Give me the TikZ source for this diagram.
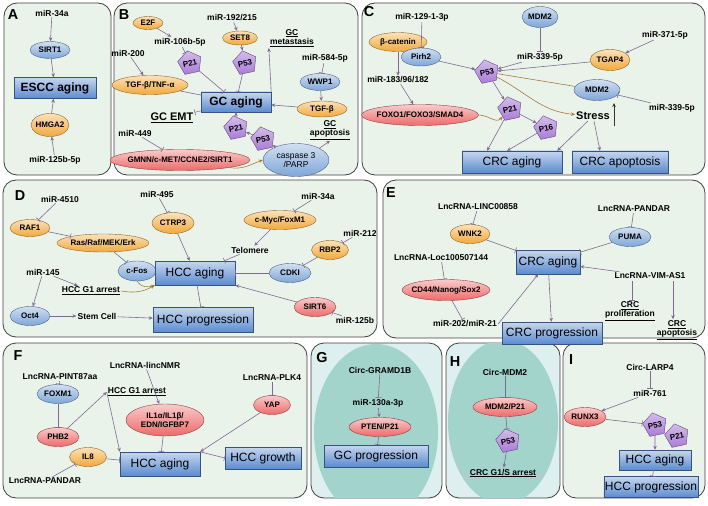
\documentclass[tikz,border=0pt]{standalone}
\usepackage{fontspec}
\setmainfont{Liberation Sans}
\usetikzlibrary{shapes.geometric,arrows.meta,positioning,calc}
\definecolor{bluN}{HTML}{7EA6D8}
\definecolor{orgN}{HTML}{F2A93B}
\definecolor{redN}{HTML}{EE6A6A}
\definecolor{purN}{HTML}{A97BD6}
\definecolor{boxB}{HTML}{5B8BD0}
\definecolor{lin}{HTML}{7D6B91}
\definecolor{brn}{HTML}{A67C3C}
\definecolor{bg}{HTML}{EAF3EA}
\definecolor{bgG}{HTML}{DDEFEE}
\definecolor{tealN}{HTML}{A3D4CC}
\tikzset{
  txt/.style={font=\fontsize{8.5}{9.5}\selectfont\bfseries, inner sep=1pt, align=center},
  ell/.style={ellipse, draw=#1!60!black, top color=#1!35!white, bottom color=#1,
    font=\fontsize{8}{9}\selectfont\bfseries, inner xsep=-4pt, inner ysep=-1pt, align=center},
  pent/.style={regular polygon, regular polygon sides=5, draw=purN!60!black,
    top color=purN!50!white, bottom color=purN, minimum size=24pt, inner sep=0pt,
    rotate=12, font=\fontsize{8}{9}\selectfont\bfseries},
  box/.style={rectangle, draw=boxB!60!black, top color=boxB!35!white, bottom color=boxB,
    font=\fontsize{12}{13}\selectfont, inner sep=1pt},
  panel/.style={rounded corners=13pt, draw=black!75, thick, fill=bg},
  lbl/.style={font=\Large\bfseries},
  act/.style={-{Stealth[length=4pt,width=3.5pt]}, draw=lin, semithick},
  inh/.style={-{Bar[width=6pt]}, draw=lin, semithick},
  bact/.style={-{Stealth[length=4pt,width=3.5pt]}, draw=brn, semithick},
}
\begin{document}
\begin{tikzpicture}[x=1pt,y=-1pt]
\useasboundingbox (0,0) rectangle (708,505);

% panels
\draw[panel] (4,3) rectangle (111,175);
\draw[panel] (114,3) rectangle (358,175);
\draw[panel] (362,3) rectangle (705,175);
\draw[panel] (3,180) rectangle (377,337);
\draw[panel] (383,180) rectangle (705,338);
\draw[panel] (3,343) rectangle (307,498);
\draw[panel, fill=bgG] (311,343) rectangle (442,498);
\draw[panel, fill=bgG] (446,343) rectangle (560,498);
\draw[panel] (563,343) rectangle (705,498);
\begin{scope}
  \clip[rounded corners=13pt] (311,343) rectangle (442,498);
  \fill[tealN] (376,432) ellipse (62 and 88);
\end{scope}
\begin{scope}
  \clip[rounded corners=13pt] (446,343) rectangle (560,498);
  \fill[tealN] (503,422) ellipse (55 and 82);
\end{scope}

% A
\node[lbl] at (13,15) {A};
\node[txt] (aMir) at (52,13) {miR-34a};
\node[ell=bluN, minimum width=40pt, minimum height=17pt] (aSirt) at (50,50) {SIRT1};
\node[box, minimum width=82pt, minimum height=21pt, font=\fontsize{12}{13}\selectfont\bfseries] (aEscc) at (55,88) {ESCC aging};
\node[ell=orgN, minimum width=38pt, minimum height=23pt] (aHmga) at (50,125) {HMGA2};
\node[txt] (aMirb) at (55,160) {miR-125b-5p};
\draw[act] (aMir) -- (aSirt);
\draw[act] (aSirt) -- (aEscc);
\draw[act] (aMirb) -- (aHmga);
\draw[act] (aHmga) -- (aEscc);

% B
\node[lbl] at (124,15) {B};
\node[ell=orgN, minimum width=30pt, minimum height=13pt] (bE2f) at (148,23) {E2F};
\node[txt] (bMir106) at (180,42) {miR-106b-5p};
\node[pent] (bP21a) at (190,63) {P21};
\node[txt] (bMir200) at (128,53) {miR-200};
\node[ell=orgN, minimum width=76pt, minimum height=19pt] (bTgft) at (150,85) {TGF-β/TNF-α};
\node[txt] (bMir192) at (232,18) {miR-192/215};
\node[ell=orgN, minimum width=35pt, minimum height=14pt] (bSet) at (240,38) {SET8};
\node[pent] (bP53a) at (245,63) {P53};
\node[txt] (bMeta) at (292,38) {\underline{GC}\\\underline{metastasis}};
\node[txt] (bMir584) at (325,58) {miR-584-5p};
\node[ell=bluN, minimum width=40pt, minimum height=17pt] (bWwp) at (320,82) {WWP1};
\node[box, minimum width=70pt, minimum height=20pt, font=\fontsize{12}{13}\selectfont\bfseries] (bGc) at (236,102) {GC aging};
\node[ell=orgN, minimum width=50pt, minimum height=16pt] (bTgf) at (322,109) {TGF-β};
\node[txt, font=\fontsize{11}{12}\selectfont\bfseries] (bEmt) at (172,118) {\underline{GC EMT}};
\node[txt] (bMir449) at (135,133) {miR-449};
\node[ell=redN, minimum width=140pt, minimum height=21pt] (bGmnn) at (180,160) {GMNN/c-MET/CCNE2/SIRT1};
\node[pent] (bP21b) at (236,128) {P21};
\node[pent] (bP53b) at (263,139) {P53};
\node[txt] (bApo) at (330,130) {\underline{GC}\\\underline{apoptosis}};
\node[ell=bluN, minimum width=66pt, minimum height=33pt, font=\fontsize{8.5}{9.5}\selectfont] (bCasp) at (296,160) {caspase 3\\/PARP};
\draw[act] (bE2f) -- (bMir106);
\draw[inh] (bMir106) -- (bP21a);
\draw[inh] (bP21a) -- (bGc);
\draw[act] (bMir192) -- (bSet);
\draw[act] (bSet) -- (bP53a);
\draw[inh] (bP53a) -- (bGc);
\draw[act] (bGc.north east) -- (bMeta.south west);
\draw[inh] (bMir584) -- (bWwp);
\draw[act] (bWwp) -- (bTgf);
\draw[act] (bTgf) -- (bGc);
\draw[act] (bMir200) -- (bTgft);
\draw[lin, semithick] (bTgft) -- (bGc);
\draw[inh] (bGc) -- (bEmt);
\draw[inh] (bMir449) -- (bGmnn);
\draw[bact] (bGmnn.south east) to[out=-10,in=200] (bCasp.west);
\draw[act] (bCasp) -- (bP53b);
\draw[act] (bP53b) -- (bP21b);
\draw[act] (bP21b) -- (bGc);
\draw[act] (bCasp.north east) -- (bApo.south);

% C
\node[lbl] at (369,12) {C};
\node[txt] (cMir129) at (422,17) {miR-129-1-3p};
\node[ell=orgN, minimum width=58pt, minimum height=19pt] (cBcat) at (398,42) {β-catenin};
\node[ell=bluN, minimum width=40pt, minimum height=18pt] (cPirh) at (421,57) {Pirh2};
\node[ell=bluN, minimum width=36pt, minimum height=21pt] (cMdm2a) at (540,17) {MDM2};
\node[txt] (cMir339a) at (540,57) {miR-339-5p};
\node[txt] (cMir371) at (665,35) {miR-371-5p};
\node[ell=orgN, minimum width=40pt, minimum height=21pt] (cTgap) at (610,60) {TGAP4};
\node[pent] (cP53) at (487,72) {P53};
\node[txt] (cMir183) at (398,80) {miR-183/96/182};
\node[ell=bluN, minimum width=46pt, minimum height=21pt] (cMdm2b) at (597,90) {MDM2};
\node[txt] (cMir339b) at (672,108) {miR-339-5p};
\node[ell=redN, minimum width=117pt, minimum height=21pt] (cFoxo) at (420,115) {FOXO1/FOXO3/SMAD4};
\node[pent] (cP21) at (510,109) {P21};
\node[pent] (cP16) at (546,128) {P16};
\node[txt, font=\fontsize{11}{12}\selectfont\bfseries] (cStress) at (593,116) {Stress};
\coordinate (cUpA) at (614,126);
\coordinate (cUpB) at (614,103);
\node[box, minimum width=100pt, minimum height=22pt] (cAging) at (512,162) {CRC aging};
\node[box, minimum width=96pt, minimum height=22pt] (cApo) at (620,162) {CRC apoptosis};
\draw[-{Stealth[length=4pt,width=3.5pt]}, black!80, thick] (cUpA) -- (cUpB);
\draw[inh] (cMir129) -- (cPirh);
\draw[act] (cPirh) -- (cP53);
\draw[inh] (cMdm2a) -- (cMir339a);
\draw[act] (cMir339a) -- (cP53);
\draw[act] (cMir371) -- (cTgap);
\draw[act] (cTgap) -- (cP53);
\draw[act] (cBcat) -- (cMir183);
\draw[act] (cMir183) -- (cFoxo);
\draw[bact] (cFoxo.east) to[out=0,in=220] (cP21);
\draw[act] (cP53) -- (cP21);
\draw[bact] (cP53) to[out=-30,in=175] (cStress);
\draw[brn, semithick] (cP53) -- (cMdm2b);
\draw[inh] (cMir339b) -- (cMdm2b);
\draw[act] (cP21) -- ($(cAging.north)+(-25,0)$);
\draw[act] (cP21) -- (cP16);
\draw[act] (cP16) -- ($(cAging.north)+(-5,0)$);
\draw[act] (cStress) -- ($(cAging.north east)+(-5,0)$);
\draw[act] (cStress) -- ($(cApo.north)+(-20,0)$);

% D
\node[lbl] at (20,196) {D};
\node[txt] (dMir4510) at (60,199) {miR-4510};
\node[ell=orgN, minimum width=40pt, minimum height=17pt] (dRaf) at (30,228) {RAF1};
\node[ell=orgN, minimum width=92pt, minimum height=18pt] (dRas) at (103,243) {Ras/Raf/MEK/Erk};
\node[txt] (dMir495) at (157,194) {miR-495};
\node[ell=orgN, minimum width=42pt, minimum height=21pt] (dCtrp) at (173,223) {CTRP3};
\node[txt] (dMir34) at (318,196) {miR-34a};
\node[ell=orgN, minimum width=72pt, minimum height=19pt] (dMyc) at (280,220) {c-Myc/FoxM1};
\node[txt] (dMir212) at (360,233) {miR-212};
\node[ell=orgN, minimum width=37pt, minimum height=19pt] (dRbp) at (330,250) {RBP2};
\node[txt] (dTelo) at (250,250) {Telomere};
\node[ell=bluN, minimum width=38pt, minimum height=20pt] (dFos) at (137,271) {c-Fos};
\node[box, minimum width=80pt, minimum height=24pt] (dAging) at (195,273) {HCC aging};
\node[ell=bluN, minimum width=42pt, minimum height=19pt] (dCdki) at (290,273) {CDKI};
\node[txt] (dMir145) at (43,272) {miR-145};
\node[txt] (dG1) at (91,291) {\underline{HCC G1 arrest}};
\node[ell=redN, minimum width=42pt, minimum height=19pt] (dSirt) at (315,307) {SIRT6};
\node[txt] (dMir125) at (355,320) {miR-125b};
\node[ell=bluN, minimum width=40pt, minimum height=19pt] (dOct) at (30,316) {Oct4};
\node[txt] (dStem) at (97,316) {Stem Cell};
\node[box, minimum width=100pt, minimum height=25pt] (dProg) at (203,320) {HCC progression};
\draw[inh] (dMir4510) -- (dRaf);
\draw[inh] (dRaf) -- (dRas);
\draw[inh] (dRas) -- (dFos);
\draw[bact] (dFos.south) to[out=-60,in=200] (dAging.south west);
\draw[inh] (dMir495) -- (dCtrp);
\draw[act] (dCtrp) -- (dAging);
\draw[inh] (dMir34) -- (dMyc);
\draw[act] (dMyc) -- (dTelo);
\draw[inh] (dTelo) -- (dAging);
\draw[inh] (dMir212) -- (dRbp);
\draw[inh] (dRbp) -- (dCdki);
\draw[inh] (dCdki) -- (dAging);
\draw[act] (dSirt) -- (dAging.south east);
\draw[inh] (dMir125) -- (dSirt);
\draw[act] (dMir145) -- (dG1);
\draw[bact] (dG1.east) to[out=-10,in=210] (dAging.south west);
\draw[act] (dMir145) -- (dOct);
\draw[act] (dOct) -- (dStem);
\draw[act] (dStem) -- (dProg);
\draw[inh] (dAging) -- (dProg);

% E
\node[lbl] at (391,193) {E};
\node[txt] (eLinc) at (478,207) {LncRNA-LINC00858};
\node[txt] (ePandar) at (634,209) {LncRNA-PANDAR};
\node[ell=orgN, minimum width=40pt, minimum height=19pt] (eWnk) at (470,234) {WNK2};
\node[ell=bluN, minimum width=42pt, minimum height=19pt] (ePuma) at (630,237) {PUMA};
\node[txt] (eLoc) at (441,258) {LncRNA-Loc100507144};
\node[box, minimum width=64pt, minimum height=24pt] (eAging) at (548,262) {CRC aging};
\node[txt] (eVim) at (650,276) {LncRNA-VIM-AS1};
\node[ell=redN, minimum width=88pt, minimum height=21pt] (eCd44) at (446,290) {CD44/Nanog/Sox2};
\node[txt] (eProl) at (630,311) {\underline{CRC}\\\underline{proliferation}};
\node[txt] (eMir) at (465,324) {miR-202/miR-21};
\node[box, minimum width=100pt, minimum height=22pt] (eProg) at (552,333) {CRC progression};
\node[txt] (eApo) at (677,330) {\underline{CRC}\\\underline{apoptosis}};
\coordinate (eVimA) at (632,281);
\coordinate (eVimB) at (673,281);
\draw[inh] (eLinc) -- (eWnk);
\draw[inh] (eWnk) -- (eAging);
\draw[inh] (ePandar) -- (ePuma);
\draw[inh] (ePuma) -- (eAging);
\draw[inh] (eLoc) -- (eCd44);
\draw[inh] (eCd44) -- (eMir);
\draw[act] (eMir.east) -- (eAging);
\draw[act] (eVim) -- (eAging);
\draw[inh] (eVimA) -- (eProl.north -| eVimA);
\draw[act] (eVimB) -- (eApo.north -| eVimB);
\draw[act] (eAging) -- (eProg);

% F
\node[lbl] at (18,356) {F};
\node[txt] (fLinc) at (145,365) {LncRNA-lincNMR};
\node[txt] (fPint) at (60,377) {LncRNA-PINT87aa};
\node[txt] (fPlk) at (272,378) {LncRNA-PLK4};
\node[ell=bluN, minimum width=42pt, minimum height=19pt] (fFox) at (58,394) {FOXM1};
\node[txt] (fG1) at (137,392) {\underline{HCC G1 arrest}};
\node[ell=redN, minimum width=78pt, minimum height=32pt] (fIl1) at (165,420) {IL1α/IL1β/\\EDN/IGFBP7};
\node[ell=redN, minimum width=37pt, minimum height=19pt] (fYap) at (272,405) {YAP};
\node[ell=redN, minimum width=42pt, minimum height=19pt] (fPhb) at (58,437) {PHB2};
\node[ell=orgN, minimum width=37pt, minimum height=19pt] (fIl8) at (88,457) {IL8};
\node[box, minimum width=80pt, minimum height=24pt] (fAging) at (160,464) {HCC aging};
\node[box, minimum width=76pt, minimum height=22pt] (fGrow) at (263,458) {HCC growth};
\node[txt] (fPandar) at (45,481) {LncRNA-PANDAR};
\draw[inh] (fPint) -- (fFox);
\draw[inh] (fFox) -- (fPhb);
\draw[act] (fPhb) -- (fG1.west);
\draw[act] (fG1.west) -- (fAging.north west);
\draw[act] (fLinc) -- (fIl1);
\draw[inh] (fIl1) -- (fAging);
\draw[inh] (fPlk) -- (fYap);
\draw[act] (fYap) -- (fAging.north east);
\draw[inh] (fAging.north east) -- (fGrow.west);
\draw[inh] (fPandar) -- (fIl8);
\draw[inh] (fIl8) -- (fAging);

% G
\node[lbl] at (322,358) {G};
\node[txt] (gCirc) at (380,370) {Circ-GRAMD1B};
\node[txt] (gMir) at (378,403) {miR-130a-3p};
\node[ell=redN, minimum width=62pt, minimum height=19pt] (gPten) at (380,427) {PTEN/P21};
\node[box, minimum width=104pt, minimum height=22pt] (gProg) at (376,456) {GC progression};
\draw[inh] (gCirc) -- (gMir);
\draw[act] (gMir) -- (gPten);
\draw[inh] (gPten) -- (gProg);

% H
\node[lbl] at (455,362) {H};
\node[txt] (hCirc) at (505,372) {Circ-MDM2};
\node[ell=redN, minimum width=64pt, minimum height=19pt] (hMdm) at (505,407) {MDM2/P21};
\node[pent] (hP53) at (508,441) {P53};
\node[txt] (hArr) at (503,473) {\underline{CRC G1/S arrest}};
\draw[inh] (hCirc) -- (hMdm);
\draw[inh] (hMdm) -- (hP53);
\draw[act] (hP53) -- (hArr);

% I
\node[lbl] at (571,360) {I};
\node[txt] (iCirc) at (650,367) {Circ-LARP4};
\node[txt] (iMir) at (650,393) {miR-761};
\node[ell=redN, minimum width=42pt, minimum height=19pt] (iRunx) at (585,417) {RUNX3};
\node[pent] (iP53) at (655,425) {P53};
\node[pent] (iP21) at (677,436) {P21};
\node[box, minimum width=72pt, minimum height=20pt] (iAging) at (655,460) {HCC aging};
\node[box, minimum width=88pt, minimum height=21pt] (iProg) at (651,487) {HCC progression};
\draw[inh] (iCirc) -- (iMir);
\draw[act] (iMir) -- (iRunx);
\draw[inh] (iRunx) -- (iP53);
\draw[act] (iP53) -- (iAging);
\draw[inh] (iAging) -- (iProg);
\end{tikzpicture}
\end{document}
